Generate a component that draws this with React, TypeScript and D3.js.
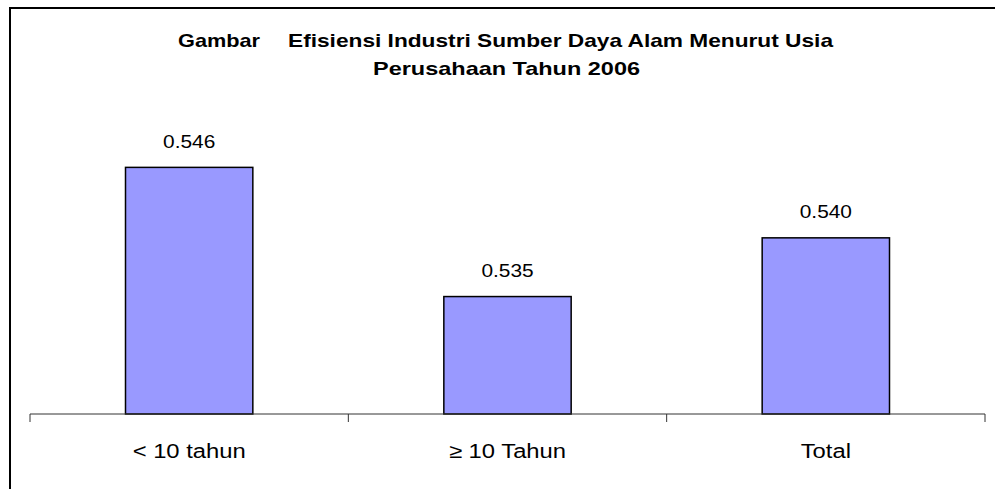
import React from "react";
import * as d3 from "d3";

const categories = ["< 10 tahun", "≥ 10 Tahun", "Total"];
const values = [0.546, 0.535, 0.54];
const valueLabels = ["0.546", "0.535", "0.540"];
const titleLead = "Gambar";
const titleLine1 = "Efisiensi Industri Sumber Daya Alam Menurut Usia";
const titleLine2 = "Perusahaan Tahun 2006";
const yDomain = [0.525, 0.55];

export default function App() {
  const W = 995;
  const H = 489;
  const x = d3
    .scaleBand<string>()
    .domain(categories)
    .range([30, 985])
    .paddingInner(0.6)
    .paddingOuter(0.3);
  const y = d3.scaleLinear().domain(yDomain).range([414, 120.4]);
  const step = x.step();
  const tickXs = [0, 1, 2, 3].map((i) => 30 + i * step);
  const font = "Arial, 'Liberation Sans', Helvetica, sans-serif";

  return (
    <svg
      width={W}
      height={H}
      style={{ position: "absolute", left: 0, top: 0, background: "#fff" }}
      fontFamily={font}
    >
      <rect x={0} y={0} width={W} height={H} fill="#fff" />
      {/* frame (cropped at right/bottom) */}
      <line x1={10} y1={8} x2={W} y2={8} stroke="#000" strokeWidth={2} />
      <line x1={10} y1={7} x2={10} y2={H} stroke="#000" strokeWidth={2} />

      {/* title */}
      <text x={178} y={46.7} fontSize={18.5} fontWeight="bold" textLength={82} lengthAdjust="spacingAndGlyphs">
        {titleLead}
      </text>
      <text x={288} y={46.7} fontSize={18.5} fontWeight="bold" textLength={545} lengthAdjust="spacingAndGlyphs">
        {titleLine1}
      </text>
      <text x={373} y={75} fontSize={18.5} fontWeight="bold" textLength={267} lengthAdjust="spacingAndGlyphs">
        {titleLine2}
      </text>

      {/* bars */}
      {categories.map((c, i) => {
        const cx = x(c)! + x.bandwidth() / 2;
        return (
          <g key={c}>
            <rect
              x={x(c)!}
              y={y(values[i])}
              width={x.bandwidth()}
              height={414 - y(values[i])}
              fill="#9999FF"
              stroke="#000"
              strokeWidth={1.5}
            />
            <text
              transform={`translate(${cx},${y(values[i]) - 19.5}) scale(1.16,1)`}
              fontSize={18}
              textAnchor="middle"
              fill="#000"
            >
              {valueLabels[i]}
            </text>
            <text
              transform={`translate(${cx},457.5) scale(1.19,1)`}
              fontSize={20}
              textAnchor="middle"
              fill="#000"
            >
              {c}
            </text>
          </g>
        );
      })}

      {/* axis */}
      <line x1={30} y1={414} x2={985} y2={414} stroke="#333" strokeWidth={1} />
      {tickXs.map((tx, i) => (
        <line key={i} x1={tx} y1={414} x2={tx} y2={422} stroke="#333" strokeWidth={1} />
      ))}
    </svg>
  );
}
